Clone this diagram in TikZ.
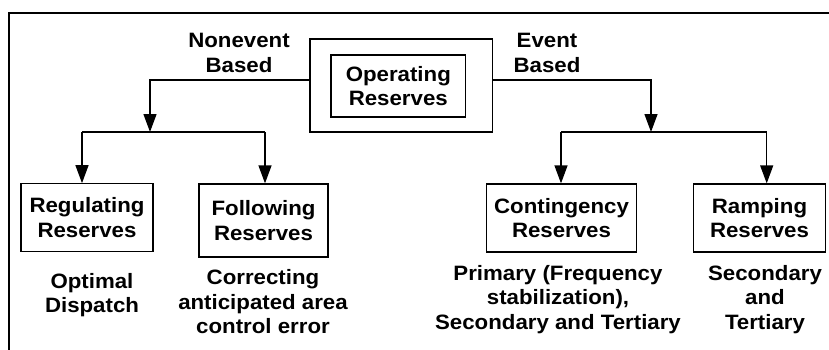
\documentclass[tikz,border=0pt]{standalone}
\usepackage{fontspec}
\setmainfont[FakeStretch=1.07]{Liberation Sans}
\usetikzlibrary{positioning,arrows.meta}

\tikzset{
  box/.style={draw, line width=1.3pt, align=center, inner sep=0pt,
    font=\fontsize{20.8}{24.5}\selectfont\bfseries},
  note/.style={align=center, inner sep=0pt,
    font=\fontsize{20.8}{24.5}\selectfont\bfseries},
  arr/.style={line width=1.3pt, -{Triangle[length=18pt,width=13pt]}},
  link/.style={line width=1.3pt}
}

\begin{document}
\begin{tikzpicture}[x=1pt,y=-1pt]
    \useasboundingbox (0,0) rectangle (829,349);
    % frame round the page
    \draw[line width=2.2pt] (9,352) -- (9,13) -- (832,13);

    % top of the tree
    \node[box, minimum width=134.7pt, minimum height=62pt] (ops) at (398.3,86) {Operating\\Reserves};
    \node[draw, line width=1.3pt, minimum width=182.7pt, minimum height=93pt] (opsframe) at (401.3,85.5) {};

    % the four kinds of reserve
    \node[box, minimum width=132pt, minimum height=68pt] (reg) at (87,217.8) {Regulating\\Reserves};
    \node[box, minimum width=129pt, minimum height=73pt] (fol) at (263.5,220.5) {Following\\Reserves};
    \node[box, minimum width=150.4pt, minimum height=68pt] (con) at (561.5,218) {Contingency\\Reserves};
    \node[box, minimum width=132.4pt, minimum height=68pt] (ramp) at (759.5,218) {Ramping\\Reserves};

    \node[note] (nonevt) at (239,53) {Nonevent\\Based};
    \node[note] (evt) at (547,53) {Event\\Based};

    \node[note] (regnote) at (92,295) {Optimal\\Dispatch};
    \node[note] (folnote) at (263,302) {Correcting\\anticipated area\\control error};
    \node[note] (connote) at (558,299.5) {Primary (Frequency\\stabilization),\\Secondary and Tertiary};
    \node[note] (rampnote) at (765,299.5) {Secondary\\and\\Tertiary};

    % splitting points
    \coordinate (nsplit) at (150,132);
    \coordinate (esplit) at (651,132);
    \coordinate (regtap) at (82,132);
    \coordinate (foltap) at (265,132);
    \coordinate (contap) at (561,132);
    \coordinate (ramptap) at (766.7,132);

    \draw[arr] ([yshift=5.5pt]opsframe.west) -| (nsplit);
    \draw[arr] ([yshift=5.5pt]opsframe.east) -| (esplit);

    \draw[link] (regtap) -- (foltap);
    \draw[arr] (regtap) -- (regtap |- reg.north);
    \draw[arr] (foltap) -- (foltap |- fol.north);

    \draw[link] (contap) -- (ramptap);
    \draw[arr] (contap) -- (contap |- con.north);
    \draw[arr] (ramptap) -- (ramptap |- ramp.north);
\end{tikzpicture}
\end{document}
